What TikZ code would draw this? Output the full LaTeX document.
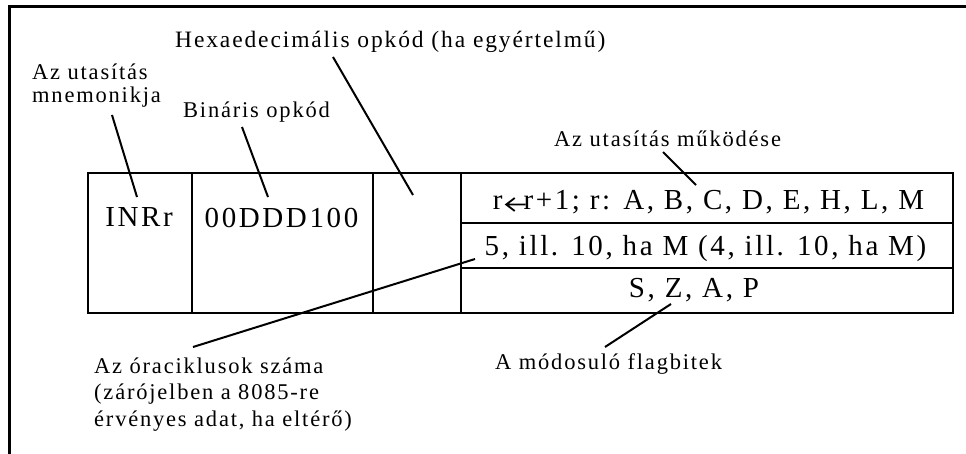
\documentclass[tikz,border=0pt]{standalone}
\usepackage{fontspec}
\setmainfont{Liberation Serif}[LetterSpace=8]
\begin{document}
\begin{tikzpicture}[x=1pt,y=-1pt,
  lbl/.style={anchor=base west,inner sep=0pt,font=\fontsize{22.5}{27}\selectfont},
  cell/.style={draw,line width=2pt,anchor=north west,inner sep=0pt,rectangle},
  celltxt/.style={anchor=base,inner sep=0pt,font=\fontsize{29}{32}\selectfont\addfontfeatures{LetterSpace=9}},
  conn/.style={line width=2pt},
  arrowglyph/.style={line width=1.8pt,line join=miter}]
\useasboundingbox (0,0) rectangle (966,454);
% frame
\draw[line width=3pt] (9.5,454) -- (9.5,6.7) -- (966,6.7);
% table cells
\node[cell,minimum width=104pt,minimum height=140pt] (mn) at (87,172) {};
\node[cell,minimum width=181pt,minimum height=140pt] (bin) at (191,172) {};
\node[cell,minimum width=88pt,minimum height=140pt] (hex) at (372,172) {};
\node[cell,minimum width=492pt,minimum height=50pt] (op) at (460,172) {};
\node[cell,minimum width=492pt,minimum height=45pt] (cyc) at (460,222) {};
\node[cell,minimum width=492pt,minimum height=45pt] (flg) at (460,267) {};
% cell texts
\node[celltxt] (tmn) at (139,227) {INRr};
\node[celltxt] (tbin) at (281.5,228) {00DDD100};
\node[celltxt] (top) at (708.5,210) {r\hspace{21pt}r+1; r: A, B, C, D, E, H, L, M};
\draw[arrowglyph,shift={(top.base west)}] (33,-5.5) -- (13.5,-5.5)
  (22,-12) -- (13.5,-5.5) -- (22,1);
\node[celltxt] (tcyc) at (705.5,256) {5, ill. 10, ha M (4, ill. 10, ha M)};
\node[celltxt] (tflg) at (694,298) {S, Z, A, P};
% labels
\node[lbl,font=\fontsize{23.5}{28}\selectfont] (lhex) at (175,48) {Hexaedecimális opkód (ha egyértelmű)};
\node[lbl] (lmn1) at (32,80) {Az utasítás};
\node[lbl] (lmn2) at (32,103) {mnemonikja};
\node[lbl] (lbin) at (183,118) {Bináris opkód};
\node[lbl] (lop) at (554,147) {Az utasítás működése};
\node[lbl] (lcyc1) at (94,373) {Az óraciklusok száma};
\node[lbl] (lcyc2) at (94,399) {(zárójelben a 8085-re};
\node[lbl] (lcyc3) at (94,426) {érvényes adat, ha eltérő)};
\node[lbl] (lflg) at (495,369) {A módosuló flagbitek};
% connector end points
\coordinate (a1) at (112,115); \coordinate (b1) at (137,197);
\coordinate (a2) at (242,127); \coordinate (b2) at (268,197);
\coordinate (a3) at (333,57);  \coordinate (b3) at (413,195);
\coordinate (a4) at (663,152); \coordinate (b4) at (696,185);
\coordinate (a5) at (193,347); \coordinate (b5) at (475,259);
\coordinate (a6) at (605,347); \coordinate (b6) at (671,304);
\draw[conn] (a1) -- (b1);
\draw[conn] (a2) -- (b2);
\draw[conn] (a3) -- (b3);
\draw[conn] (a4) -- (b4);
\draw[conn] (a5) -- (b5);
\draw[conn] (a6) -- (b6);
\end{tikzpicture}
\end{document}
